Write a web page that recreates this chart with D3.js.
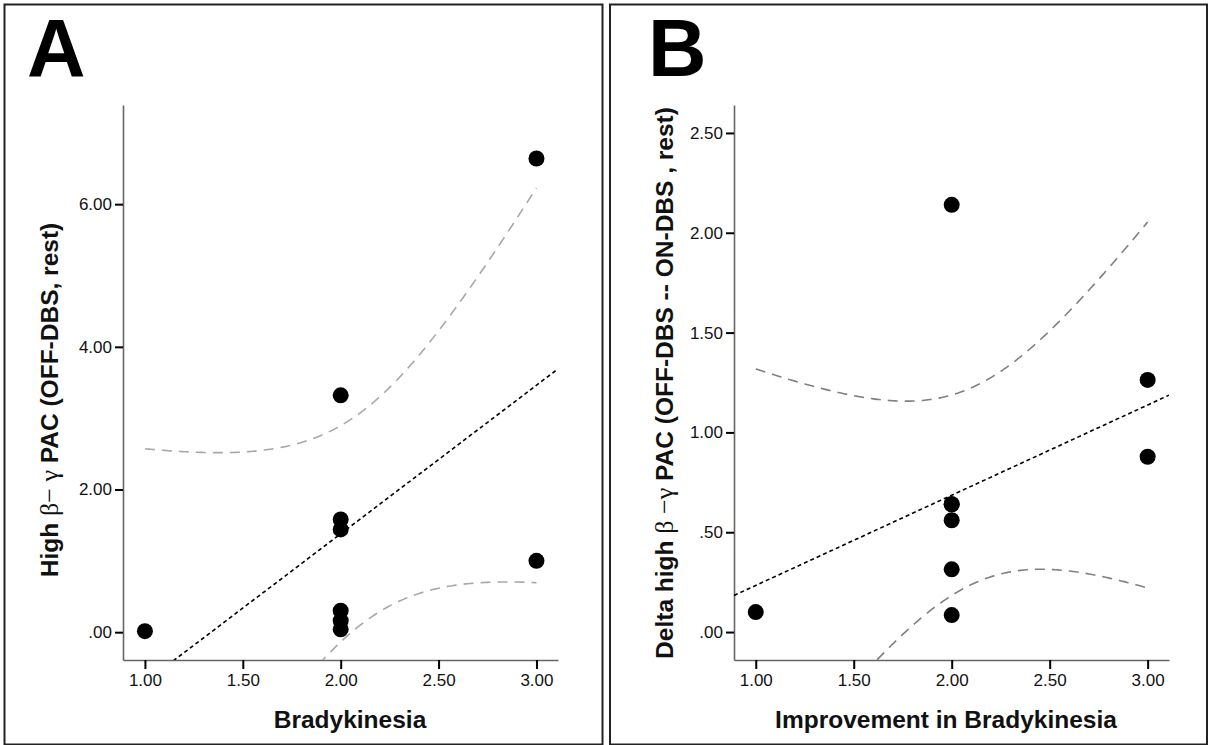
<!DOCTYPE html>
<html><head><meta charset="utf-8">
<script src="https://cdn.jsdelivr.net/npm/d3@7"></script>
<style>
body{margin:0;background:#fff;}
svg{display:block;}
text{font-family:"Liberation Sans",Arial,sans-serif;}
.tick text{font-size:17px;}
</style></head>
<body><svg id="c" width="1210" height="745"></svg>
<script>
// Panel A data
const xA = [1, 2, 2, 2, 2, 2, 2, 3, 3];
const yA = [0.014, 3.32, 1.58, 1.44, 0.30, 0.16, 0.04, 6.64, 1.00];
// Panel B data (one point hidden under another at 2.00)
const xB = [1, 2, 2, 2, 2, 2, 2, 3, 3];
const yB = [0.10, 2.14, 0.64, 0.64, 0.56, 0.314, 0.085, 1.263, 0.878];
const xTicks = [1.0, 1.5, 2.0, 2.5, 3.0];
const yTicksA = [0, 2, 4, 6];
const yTicksB = [0, 0.5, 1.0, 1.5, 2.0, 2.5];
const tCrit = 2.3646; // t(0.975, df=7)

const svg = d3.select("#c");
const fmt = v => { const s = d3.format(".2f")(v); return s.startsWith("0") ? s.slice(1) : s; };

function panel(o){
  const g = svg.append("g");
  g.append("rect").attr("x",o.bx).attr("y",4.5).attr("width",o.bw).attr("height",740)
    .attr("fill","none").attr("stroke","#222").attr("stroke-width",2);
  g.append("text").attr("x",o.lx).attr("y",76).attr("font-size",81).attr("font-weight","bold")
    .attr("fill","#000").text(o.letter);
  const x = d3.scaleLinear().domain(o.xd).range([o.l,o.r]);
  const y = d3.scaleLinear().domain(o.yd).range([660,105]);
  const clipId = "clip"+o.letter;
  g.append("clipPath").attr("id",clipId).append("rect")
    .attr("x",o.l).attr("y",105).attr("width",o.r-o.l).attr("height",555);
  const ax = g.append("g").attr("transform",`translate(0,660)`)
    .call(d3.axisBottom(x).tickValues(xTicks).tickFormat(fmt).tickSize(9).tickPadding(5).tickSizeOuter(0));
  const ay = g.append("g").attr("transform",`translate(${o.l},0)`)
    .call(d3.axisLeft(y).tickValues(o.yt).tickFormat(fmt).tickSize(8).tickPadding(3).tickSizeOuter(0));
  [ax,ay].forEach(a=>{
    a.attr("font-size",17).attr("font-family","Liberation Sans, Arial, sans-serif");
    a.select(".domain").attr("stroke","#666").attr("stroke-width",1.6);
    a.selectAll(".tick line").attr("stroke","#000").attr("stroke-width",2);
    a.selectAll(".tick text").attr("fill","#111");
  });
  // least-squares fit and 95% CI of the mean, from the data
  const xs = o.xv, ys = o.yv, n = xs.length;
  const mx = d3.mean(xs), my = d3.mean(ys);
  let sxx=0,sxy=0; xs.forEach((v,i)=>{sxx+=(v-mx)**2; sxy+=(v-mx)*(ys[i]-my);});
  const b = sxy/sxx, a0 = my - b*mx;
  let sse=0; xs.forEach((v,i)=>{sse+=(ys[i]-a0-b*v)**2;});
  const s = Math.sqrt(sse/(n-2));
  const plot = g.append("g").attr("clip-path",`url(#${clipId})`);
  const [x0,x1] = o.xd;
  plot.append("line").attr("x1",x(x0)).attr("y1",y(a0+b*x0)).attr("x2",x(x1)).attr("y2",y(a0+b*x1))
    .attr("stroke","#000").attr("stroke-width",1.6).attr("stroke-dasharray","4,3");
  const xmin = d3.min(xs), xmax = d3.max(xs);
  const grid = d3.range(0,201).map(i=>xmin+(xmax-xmin)*i/200);
  const hw = v => tCrit*s*Math.sqrt(1/n + (v-mx)**2/sxx);
  [1,-1].forEach(sg=>{
    plot.append("path").datum(grid)
      .attr("d", d3.line().x(v=>x(v)).y(v=>y(a0+b*v+sg*hw(v))))
      .attr("fill","none").attr("stroke",o.ciColor).attr("stroke-width",1.6)
      .attr("stroke-dasharray","10,7");
  });
  g.append("g").selectAll("circle").data(xs.map((v,i)=>[v,ys[i]])).join("circle")
    .attr("cx",d=>x(d[0])).attr("cy",d=>y(d[1])).attr("r",8).attr("fill","#000");
  g.append("text").attr("x",o.xtx).attr("y",728).attr("text-anchor","middle")
    .attr("font-size",24.5).attr("font-weight","bold").attr("fill","#111").text(o.xTitle);
  const yt = g.append("text").attr("transform",`translate(${o.ytx},${o.yty}) rotate(-90)`)
    .attr("text-anchor","middle").attr("font-size",24.5).attr("font-weight","bold").attr("fill","#111");
  o.yTitle.forEach(p=>{
    const t = yt.append("tspan").text(p[0]);
    if(p[1]) t.attr("font-weight","normal").attr("font-family","Liberation Serif, serif").attr("font-size",26);
  });
}

panel({letter:"A", bx:4.5, bw:598, lx:27, l:123, r:558, xd:[0.888,3.110], yd:[-0.39,7.39], yt:yTicksA,
  xv:xA, yv:yA, ciColor:"#a8a8a8", xTitle:"Bradykinesia", xtx:350, ytx:58, yty:400,
  yTitle:[["High "],["β− γ",1],[" PAC (OFF-DBS, rest)"]]});
panel({letter:"B", bx:610, bw:597, lx:648, l:734, r:1169, xd:[0.889,3.109], yd:[-0.14,2.64], yt:yTicksB,
  xv:xB, yv:yB, ciColor:"#808080", xTitle:"Improvement in Bradykinesia", xtx:946, ytx:673, yty:383,
  yTitle:[["Delta high "],["β −γ",1],[" PAC (OFF-DBS -- ON-DBS , rest)"]]});
</script></body></html>
